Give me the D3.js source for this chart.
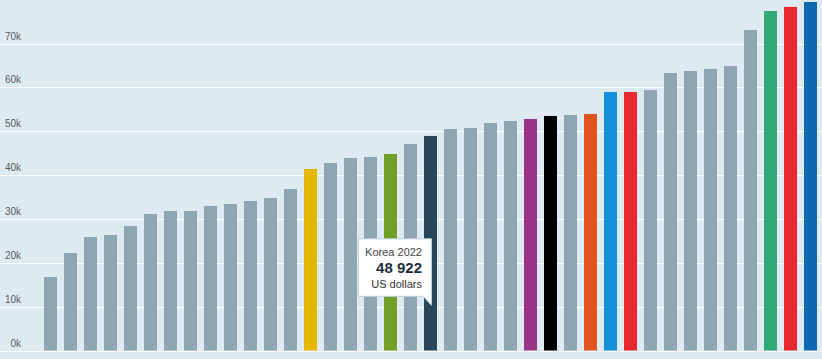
<!DOCTYPE html>
<html>
<head>
<meta charset="utf-8">
<script src="https://cdn.jsdelivr.net/npm/d3@7"></script>
<style>
  html, body { margin: 0; padding: 0; background: #deeaf2; }
  svg { display: block; }
</style>
</head>
<body>
<svg id="chart" width="822" height="359"></svg>
<script>
// Categories (countries, ascending order of value)
const countries = ["MEX","CHL","SVK","HUN","GRC","LVA","PRT","EST","CZE","JPN","POL","LTU","ITA",
  "ESP","SVN","ISR","NZL","FRA","FIN","KOR","SWE","GBR","CAN","AUT","OECD","DEU","IRL","NOR",
  "AUS","DNK","NLD","BEL","LUX","ISL","CHE","USA","USA2","ICE2","LUX2"];
// Average annual wages, US dollars
const values = [16760, 22230, 25880, 26340, 28390, 31130, 31810, 31810, 32950, 33410, 34090, 34780,
  36830, 41390, 42760, 43900, 44130, 44810, 47090, 48922, 50510, 50740, 51880, 52340, 52790,
  53480, 53710, 53930, 58950, 58950, 59410, 63280, 63740, 64200, 64880, 73090, 77420, 78340, 79470];
// Highlight colours by category index (others grey)
const highlightIdx = [13, 17, 19, 24, 25, 27, 28, 29, 36, 37, 38];
const highlightColors = ["#e3b600", "#72a027", "#29455a", "#993486", "#000000", "#e1541f",
  "#1490dd", "#e8292f", "#32a877", "#e8292f", "#0e69b2"];
const baseColor = "#8fa5b1";
// Axis ticks
const tickValues = [0, 10000, 20000, 30000, 40000, 50000, 60000, 70000];
// Tooltip
const tipCountry = "KOR";
const tipLines = ["Korea 2022", "48 922", "US dollars"];

const svg = d3.select("#chart");
const W = 822, H = 359;

const y = d3.scaleLinear().domain([0, 70000]).range([350.5, 43.5]);
const x = d3.scaleBand().domain(countries).range([40.5, 820.5])
  .paddingInner(0.35).paddingOuter(0.175);

// Gridlines
svg.append("g").selectAll("line").data(tickValues).join("line")
  .attr("x1", 0).attr("x2", W)
  .attr("y1", d => Math.round(y(d)) + 0.5).attr("y2", d => Math.round(y(d)) + 0.5)
  .attr("stroke", "#ffffff").attr("stroke-width", 1);

// Tick labels (right-aligned)
svg.append("g").selectAll("text").data(tickValues).join("text")
  .attr("x", 21).attr("y", d => y(d) - 4)
  .attr("text-anchor", "end")
  .attr("font-family", "'Liberation Sans', Arial, sans-serif")
  .attr("font-size", 10).attr("fill", "#5a5a5a")
  .text(d => d3.format("d")(d / 1000) + "k");

// Bars
const colorOf = i => {
  const k = highlightIdx.indexOf(i);
  return k >= 0 ? highlightColors[k] : baseColor;
};
svg.append("g").selectAll("rect").data(values).join("rect")
  .attr("x", (d, i) => x(countries[i]))
  .attr("width", x.bandwidth())
  .attr("y", d => y(d))
  .attr("height", d => y(0) - y(d))
  .attr("fill", (d, i) => colorOf(i));

// Tooltip
const bx = x(tipCountry) + x.bandwidth() / 2 + 1;   // pointer tip x
const tipY = y(10300);                              // pointer tip y
const boxR = bx, boxB = tipY - 9, boxW = 73, boxH = 57.5;
const boxL = boxR - boxW, boxT = boxB - boxH;
const tg = svg.append("g");
const path = `M${boxL},${boxT} H${boxR} V${tipY} L${boxR - 8.5},${boxB} H${boxL} Z`;
tg.append("path").attr("d", path)
  .attr("fill", "#ffffff").attr("stroke", "#b9d0e2").attr("stroke-width", 1);
const tx = boxR - 9.5;
tg.append("text").attr("x", tx).attr("y", boxT + 17)
  .attr("text-anchor", "end").attr("font-family", "'Liberation Sans', Arial, sans-serif")
  .attr("font-size", 11).attr("fill", "#444").text(tipLines[0]);
tg.append("text").attr("x", tx).attr("y", boxT + 34.5)
  .attr("text-anchor", "end").attr("font-family", "'Liberation Sans', Arial, sans-serif")
  .attr("font-size", 15).attr("font-weight", "bold").attr("fill", "#1e2e3e").text(tipLines[1]);
tg.append("text").attr("x", tx).attr("y", boxT + 49)
  .attr("text-anchor", "end").attr("font-family", "'Liberation Sans', Arial, sans-serif")
  .attr("font-size", 11).attr("fill", "#333").text(tipLines[2]);
</script>
</body>
</html>
